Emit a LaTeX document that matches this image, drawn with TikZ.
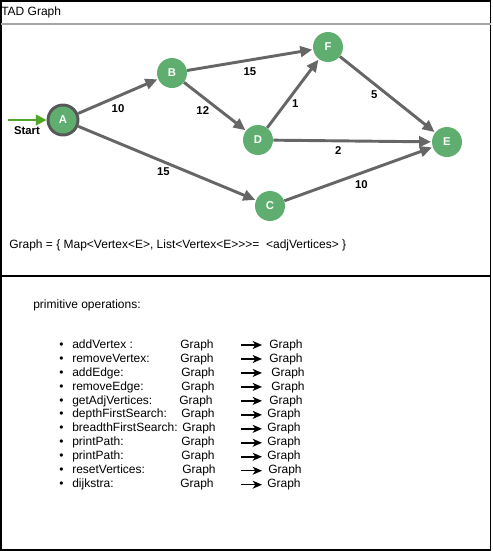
\documentclass[tikz,border=0pt]{standalone}
\usepackage{fontspec}
\setmainfont{Liberation Sans}
\usetikzlibrary{arrows.meta}
\definecolor{vgreen}{HTML}{5FAE6F}
\definecolor{egray}{HTML}{666666}
\definecolor{sgreen}{HTML}{4FA82A}
\tikzset{
	vertex/.style={circle, fill=vgreen, minimum size=22.5pt, inner sep=0pt, text=white, font=\fontsize{8.5}{10}\selectfont\bfseries},
	edge/.style={draw=egray, line width=2.2pt, -{Triangle[length=9pt,width=8pt]}, shorten >=0.5pt},
	lbl/.style={font=\fontsize{8.5}{10}\selectfont\bfseries, inner sep=1pt},
	txt/.style={font=\fontsize{9}{11}\selectfont, inner sep=0pt, anchor=west, text height=6.6pt, text depth=1.9pt}
}
\begin{document}
\begin{tikzpicture}[x=0.75pt, y=-0.75pt]
		\useasboundingbox (0,0) rectangle (493,551);
		% frame
		\draw[line width=1.2pt] (0.8,0.8) rectangle (490.5,549.8);
		\draw[line width=1.2pt, gray!70] (0.8,24) -- (490.5,24);
		\draw[line width=1.2pt] (0.8,276) -- (490.5,276);
		\node[txt] (title) at (1,12) {TAD Graph};
		% vertices
		\node[vertex, draw=egray!85!black, line width=2.2pt] (A) at (63,120) {A};
		\node[vertex] (B) at (172,73) {B};
		\node[vertex] (F) at (328,47) {F};
		\node[vertex] (D) at (258,140) {D};
		\node[vertex] (E) at (447,142) {E};
		\node[vertex] (C) at (270,206) {C};
		% start
		\coordinate (s) at (8,120);
		\draw[draw=sgreen, line width=1.6pt, -{Triangle[length=8pt,width=8pt]}] (s) -- (A);
		\node[lbl] (start) at (27,131) {Start};
		% edges
		\draw[edge] (A) -- node[lbl, pos=0.5, below=4pt] {10} (B);
		\draw[edge] (B) -- node[lbl, pos=0.5, below=4pt] {15} (F);
		\draw[edge] (B) -- node[lbl, pos=0.45, below left=0pt] {12} (D);
		\draw[edge] (D) -- node[lbl, pos=0.35, right=3pt] {1} (F);
		\draw[edge] (F) -- node[lbl, pos=0.5, left=5.5pt] {5} (E);
		\draw[edge] (D) -- node[lbl, pos=0.41, below=2pt] {2} (E);
		\draw[edge] (A) -- node[lbl, pos=0.48, below=2pt] {15} (C);
		\draw[edge] (C) -- node[lbl, pos=0.52, below=4pt] {10} (E);
		\node[txt] (adt) at (9,245) {Graph = \{ Map<Vertex<E>, List<Vertex<E>{}>{}>=\ \ <adjVertices> \}};
		% operations
		\node[txt] (ops) at (33,305) {primitive operations:};
		\foreach \op/\ga/\gb [count=\i] in {addVertex :/180/269, removeVertex:/180/269, addEdge:/181/271,
			removeEdge:/181/271, getAdjVertices:/179/269, depthFirstSearch:/181/267,
			breadthFirstSearch:/182/267, printPath:/181/267, printPath:/181/267,
			resetVertices:/182/268, dijkstra:/180/267} {
			\pgfmathsetmacro{\yy}{345+(\i-1)*13.97}
			\node[txt] (b\i) at (59,\yy) {\textbullet};
			\node[txt] (op\i) at (72,\yy) {\op};
			\node[txt] (in\i) at (\ga,\yy) {Graph};
			\node[txt] (out\i) at (\gb,\yy) {Graph};
			\coordinate (a\i) at (241,\yy);
			\draw[line width=1.1pt, -{Stealth[length=7pt,width=6pt,inset=2pt]}] (a\i) -- ++(21,0);
		}
	\end{tikzpicture}
\end{document}
